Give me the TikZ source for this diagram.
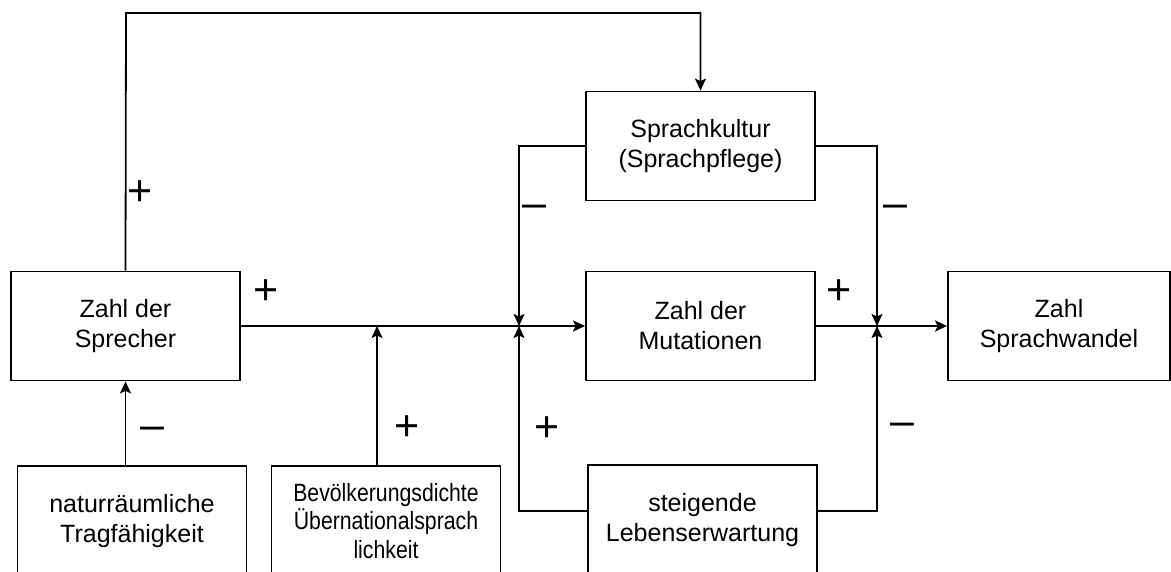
\documentclass[tikz,border=0pt]{standalone}
\usepackage{fontspec}
\setmainfont{Liberation Sans}
\newfontfamily\narrowfont[FakeStretch=0.85]{Liberation Sans}
\usetikzlibrary{arrows.meta,positioning}

\begin{document}
\begin{tikzpicture}[x=1pt,y=-1pt,line width=1.8pt,on grid,
  >={Stealth[length=12pt,width=11pt,inset=2.5pt]},
  block/.style={draw,minimum width=229pt,minimum height=109pt,inner sep=0pt,
    align=center,font=\fontsize{25}{30}\selectfont},
  sign/.style={inner sep=0pt,font=\fontsize{43}{43}\selectfont}]
  \useasboundingbox (0,0) rectangle (1171,572);
  \clip (0,0) rectangle (1171,572);
  \node[block] (sprecher) at (125.5,326) {Zahl der\\Sprecher};
  \node[block] (mutation) [right=575pt of sprecher] {Zahl der\\Mutationen};
  \node[block,minimum width=222pt] (wandel) [right=358.5pt of mutation] {Zahl\\Sprachwandel};
  \node[block] (kultur) [above=180pt of mutation] {Sprachkultur\\(Sprachpflege)};
  \node[block,minimum height=110pt] (leben) [below=194pt of mutation,xshift=2pt] {steigende\\Lebenserwartung};
  \node[block,minimum height=110pt] (natur) [below=195pt of sprecher,xshift=6.5pt] {naturräumliche\\Tragfähigkeit};
  \node[block,minimum height=110pt,font=\narrowfont\fontsize{25}{28.5}\selectfont] (bevoelk) [right=254pt of natur]
    {Bevölkerungsdichte\\Übernationalsprach\\lichkeit};
  \coordinate (top) at (126,13);
  \coordinate (jb) at (377,326);
  \coordinate (jl) at (519,326);
  \coordinate (jr) at (877,326);
  % Verbindungen
  \draw[->] (sprecher.north) -- (top) -| (kultur.north);
  \draw[->] (sprecher.east) -- (mutation.west);
  \draw[->] (mutation.east) -- (wandel.west);
  \draw[->] (natur.north -| sprecher.south) -- (sprecher.south);
  \draw[->] (bevoelk.north -| jb) -- (jb);
  \draw[->] (kultur.west) -| (jl);
  \draw[->] ([yshift=9pt]leben.west) -| (jl);
  \draw[->] (kultur.east) -| (jr);
  \draw[->] ([yshift=9pt]leben.east) -| (jr);
  % Vorzeichen
  \node[sign] (s1) at (140,193) {+};
  \node[sign] (s2) at (266,292) {+};
  \node[sign] (s3) at (152,433) {–};
  \node[sign] (s4) at (407,428) {+};
  \node[sign] (s5) at (534,211) {–};
  \node[sign] (s6) at (547,429) {+};
  \node[sign] (s7) at (839,292) {+};
  \node[sign] (s8) at (895,211) {–};
  \node[sign] (s9) at (902,429) {–};
\end{tikzpicture}
\end{document}
